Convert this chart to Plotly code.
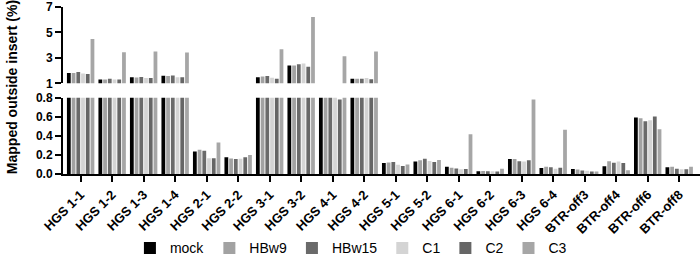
import plotly.graph_objects as go

categories = ["HGS 1-1", "HGS 1-2", "HGS 1-3", "HGS 1-4", "HGS 2-1", "HGS 2-2",
              "HGS 3-1", "HGS 3-2", "HGS 4-1", "HGS 4-2", "HGS 5-1", "HGS 5-2",
              "HGS 6-1", "HGS 6-2", "HGS 6-3", "HGS 6-4", "BTR-off3", "BTR-off4",
              "BTR-off6", "BTR-off8"]

mock = [1.81, 1.31, 1.47, 1.59, 0.237, 0.176, 1.47, 2.41, 0.92, 1.37,
        0.114, 0.13, 0.075, 0.029, 0.156, 0.062, 0.052, 0.081, 0.592, 0.072]
hbw9 = [1.81, 1.30, 1.46, 1.57, 0.254, 0.163, 1.54, 2.41, 0.92, 1.37,
        0.12, 0.143, 0.065, 0.032, 0.156, 0.075, 0.046, 0.133, 0.585, 0.075]
hbw15 = [1.89, 1.36, 1.50, 1.62, 0.244, 0.156, 1.57, 2.50, 0.92, 1.37,
         0.127, 0.159, 0.058, 0.029, 0.133, 0.072, 0.036, 0.117, 0.553, 0.055]
c1 = [1.78, 1.30, 1.42, 1.48, 0.166, 0.16, 1.44, 2.56, 0.92, 1.42,
      0.098, 0.136, 0.049, 0.029, 0.13, 0.055, 0.033, 0.13, 0.563, 0.049]
c2 = [1.74, 1.30, 1.42, 1.48, 0.166, 0.176, 1.37, 2.31, 0.78, 1.32,
      0.085, 0.127, 0.052, 0.026, 0.143, 0.065, 0.026, 0.114, 0.602, 0.049]
c3 = [4.48, 3.44, 3.50, 3.42, 0.33, 0.20, 3.67, 6.21, 3.12, 3.50,
      0.10, 0.146, 0.417, 0.055, 0.78, 0.465, 0.026, 0.039, 0.468, 0.075]

series_names = ["mock", "HBw9", "HBw15", "C1", "C2", "C3"]
series_values = [mock, hbw9, hbw15, c1, c2, c3]
colors = ["#000000", "#a2a2a2", "#6a6a6a", "#d4d4d4", "#666666", "#a6a6a6"]

lower_ticks = [0.0, 0.2, 0.4, 0.6, 0.8]
upper_ticks = [1, 3, 5, 7]

FONT = "Liberation Sans"

fig = go.Figure()
for name, vals, col in zip(series_names, series_values, colors):
    fig.add_trace(go.Bar(x=categories, y=vals, name=name, marker_color=col,
                         marker_line_width=0, xaxis="x", yaxis="y"))
for name, vals, col in zip(series_names, series_values, colors):
    fig.add_trace(go.Bar(x=categories, y=vals, name=name, marker_color=col,
                         marker_line_width=0, xaxis="x", yaxis="y2",
                         showlegend=False))

W, H = 700, 265
ml, mr, mt, mb = 63, 0, 5, 85
ph = H - mt - mb

lower_top = 100
upper_bottom = 85
lower_dom = [0, (H - mb - lower_top) / ph]
upper_dom = [(H - mb - upper_bottom) / ph, 1]

line_style = dict(showline=True, linecolor="black", linewidth=2,
                  ticks="outside", ticklen=6, tickwidth=2, tickcolor="black",
                  showgrid=False, zeroline=False)
ytick_font = dict(family=FONT, size=12, color="black", weight="bold")

fig.update_layout(
    width=W, height=H,
    margin=dict(l=ml, r=mr, t=mt, b=mb),
    paper_bgcolor="white", plot_bgcolor="white",
    barmode="group", bargap=0.1, bargroupgap=0.2,
    xaxis=dict(anchor="y", range=[-0.56, 19.66], tickangle=-45, **line_style,
               tickfont=dict(family=FONT, size=13, color="black", weight="bold")),
    yaxis=dict(domain=lower_dom, range=[0, 0.8], tickvals=lower_ticks,
               tickformat=".1f", anchor="x", ticklabeloverflow="allow",
               tickfont=ytick_font, **line_style),
    yaxis2=dict(domain=upper_dom, range=[1, 7], tickvals=upper_ticks,
                anchor="x", ticklabeloverflow="allow",
                tickfont=ytick_font, **line_style),
    legend=dict(orientation="h", x=0.452, xanchor="center", y=-0.445,
                yanchor="middle", font=dict(family=FONT, size=14, color="black"),
                traceorder="normal"),
    annotations=[dict(text="Mapped outside insert (%)", xref="paper", yref="paper",
                      x=-51 / (W - ml - mr), y=0.52, xanchor="center", yanchor="middle",
                      textangle=-90, showarrow=False,
                      font=dict(family=FONT, size=14, color="black", weight="bold"))],
)

fig.write_html("out.html")
